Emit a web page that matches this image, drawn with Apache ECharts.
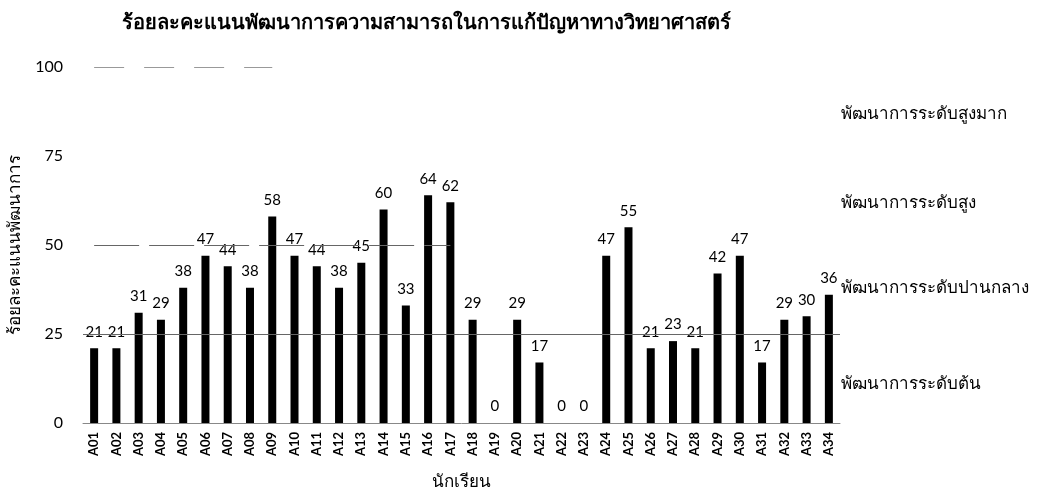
<!DOCTYPE html>
<html><head><meta charset="utf-8">
<script src="https://cdn.jsdelivr.net/npm/echarts@6/dist/echarts.min.js"></script>
<style>html,body{margin:0;padding:0;background:#fff}#c{width:1047px;height:494px}</style>
</head><body><div id="c"></div>
<script>
const categories = ['A01','A02','A03','A04','A05','A06','A07','A08','A09','A10','A11','A12','A13','A14','A15','A16','A17','A18','A19','A20','A21','A22','A23','A24','A25','A26','A27','A28','A29','A30','A31','A32','A33','A34'];
const scores = [21,21,31,29,38,47,44,38,58,47,44,38,45,60,33,64,62,29,0,29,17,0,0,47,55,21,23,21,42,47,17,29,30,36];
const yTicks = [0,25,50,75,100];
const levelNames = ['พัฒนาการระดับต้น','พัฒนาการระดับปานกลาง','พัฒนาการระดับสูง','พัฒนาการระดับสูงมาก'];
const levelLabelAt = [11,38,62,87];
const thresholds = [25,50,100];

const FONT = 'Lato, "Noto Sans", sans-serif';
const chart = echarts.init(document.getElementById('c'));
const option = {
  animation:false,
  backgroundColor:'#fff',
  title:{text:'ร้อยละคะแนนพัฒนาการความสามารถในการแก้ปัญหาทางวิทยาศาสตร์',left:117,top:8,
    textStyle:{fontSize:20,fontWeight:'bold',color:'#000',fontFamily:FONT}},
  grid:{left:83,right:207,top:67,bottom:71,containLabel:false,outerBoundsMode:'none'},
  xAxis:{type:'category',data:categories,name:'นักเรียน',nameLocation:'middle',nameGap:50,
    nameTextStyle:{fontSize:17,color:'#000',fontFamily:FONT},
    axisLine:{lineStyle:{color:'#888',width:1}},axisTick:{show:false},
    axisLabel:{rotate:90,fontSize:13,fontWeight:'bold',color:'#000',fontFamily:FONT,interval:0,margin:9}},
  yAxis:{type:'value',min:0,max:100,interval:25,name:'ร้อยละคะแนนพัฒนาการ',nameLocation:'middle',nameGap:60,
    nameMoveOverlap:false,
    nameTextStyle:{fontSize:17,color:'#000',fontFamily:FONT},
    axisLine:{show:false},axisTick:{show:false},splitLine:{show:false},
    axisLabel:{fontSize:16,color:'#000',fontFamily:FONT,margin:20,
      formatter:v=>yTicks.includes(v)?String(v):''}},
  series:[{
    type:'bar',data:scores,barWidth:8,itemStyle:{color:'#000'},
    label:{show:true,position:'top',distance:9,fontSize:15,color:'#000',fontFamily:FONT},
    markLine:{silent:true,symbol:'none',label:{show:false},
      data:[
        {yAxis:thresholds[0],lineStyle:{color:'#666',width:1.2,type:'solid'}},
        [{coord:[categories[0],thresholds[1]]},{coord:[categories[16],thresholds[1]],lineStyle:{color:'#666',width:1,type:[45,10]}}],
        [{coord:[categories[0],thresholds[2]]},{coord:[categories[8],thresholds[2]],lineStyle:{color:'#999',width:1,type:[30,20]}}]
      ]}
  }]
};
chart.setOption(option);
const gridRight = 1047 - 207;
chart.setOption({graphic:[
  ...levelNames.map((n,i)=>({type:'text',
    x:gridRight+1,
    y:chart.convertToPixel({yAxisIndex:0},levelLabelAt[i]),
    style:{text:n,fontSize:17,fill:'#000',fontFamily:FONT,textAlign:'left',textVerticalAlign:'middle'}}))
]});
</script></body></html>
